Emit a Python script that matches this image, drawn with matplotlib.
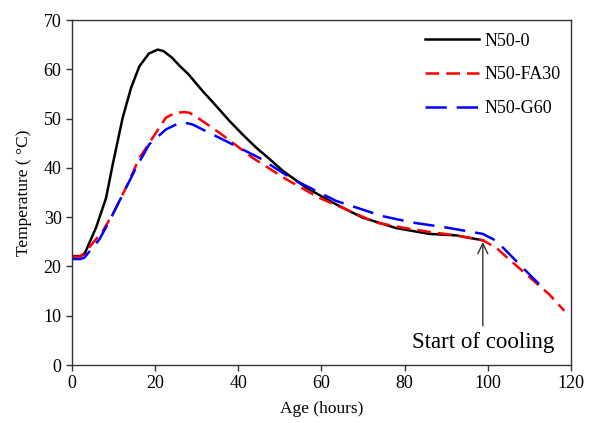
import numpy as np
import matplotlib
matplotlib.use("Agg")
import matplotlib.pyplot as plt

plt.rcParams['font.family'] = ['Liberation Serif', 'DejaVu Serif']

# N50-0 (black, ends at start of cooling)
age_n0 = [0, 2, 3, 5.8, 8.2, 9.8, 12.2, 14.2, 16.2, 18.5, 20.6, 22, 24, 26, 28, 31.4,
          34, 37.9, 41, 44.3, 47.5, 50.7, 56.3, 63.5, 69.9, 77.9, 85.9, 92.4, 98.8]
temp_n0 = [22.1, 22.1, 22.5, 27.9, 33.9, 40.7, 50.2, 56.2, 60.6, 63.2, 64.0, 63.7, 62.4,
           60.6, 59.0, 55.6, 53.2, 49.5, 46.8, 44.1, 41.8, 39.4, 36.0, 32.6, 29.9,
           27.8, 26.6, 26.3, 25.3]

# N50-FA30 (red)
age_fa = [0, 2, 3.4, 7.4, 9.8, 13, 16.2, 19.4, 22.6, 25, 27, 28.2, 30, 35.5, 43.5,
          51.5, 59.5, 65, 73.1, 80, 86, 92.4, 98.8, 102, 106, 114.8, 118.4]
temp_fa = [22.0, 22.0, 23.1, 27.2, 30.6, 36.0, 42.0, 46.1, 50.2, 51.2, 51.3, 51.2,
           50.3, 47.1, 42.0, 37.7, 33.9, 31.9, 28.9, 27.8, 27.0, 26.3, 25.3, 23.8,
           20.8, 14.3, 11.0]

# N50-G60 (blue)
age_g = [0, 2, 3, 6.6, 9, 12.2, 15.4, 18.6, 22.6, 25.8, 27, 29, 37.1, 45.1, 53.1,
         63.5, 74.7, 81.9, 90, 98.8, 102, 105.2, 110.8, 113.2]
temp_g = [21.5, 21.5, 21.8, 25.5, 29.2, 34.6, 40.0, 44.8, 47.8, 49.1, 49.2, 48.8,
          45.4, 42.0, 37.7, 33.3, 30.2, 28.9, 27.9, 26.6, 25.2, 22.5, 17.7, 15.7]

xticks = [0, 20, 40, 60, 80, 100, 120]
yticks = [0, 10, 20, 30, 40, 50, 60, 70]
cooling_age = 98.8
cooling_temp = 25.5

fig = plt.figure(figsize=(5.89, 4.23), dpi=100)
ax = fig.add_axes([0.1222, 0.1371, 0.8472, 0.8156])

ax.plot(age_n0, temp_n0, color='black', lw=1.8, label='N50-0')
ax.plot(age_fa, temp_fa, color='red', lw=1.8, dashes=(5.5, 2.8), label='N50-FA30')
ax.plot(age_g, temp_g, color='blue', lw=1.8, dashes=(8.5, 4.0), label='N50-G60')

ax.annotate('', xy=(cooling_age, cooling_temp), xytext=(cooling_age, 7.4),
            arrowprops=dict(arrowstyle='->', color='#333333', lw=1.0,
                            mutation_scale=18))
ax.text(cooling_age, 4.6, 'Start of cooling', ha='center', va='center',
        fontsize=16.5, color='black')

ax.set_xlim(0, 120)
ax.set_ylim(0, 70)
ax.set_xticks(xticks)
ax.set_yticks(yticks)
ax.tick_params(direction='out', length=4, width=1, labelsize=13, color='#333333')
for s in ax.spines.values():
    s.set_color('#333333')
    s.set_linewidth(1.0)

ax.set_xlabel('Age (hours)', fontsize=12.5, labelpad=6)
ax.set_ylabel('Temperature ( °C)', fontsize=12.5, labelpad=8)

ax.legend(loc='upper right', bbox_to_anchor=(1.012, 1.01), frameon=False,
          fontsize=13, handlelength=3.0, labelspacing=0.92, handletextpad=0.3)

fig.savefig('out.png', dpi=100)
